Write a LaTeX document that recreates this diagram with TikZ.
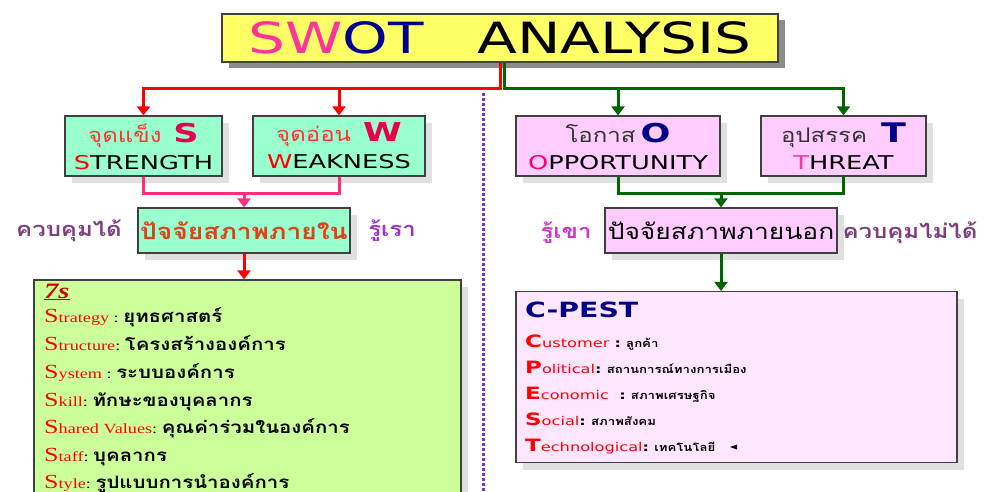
\documentclass[tikz,border=0pt]{standalone}
\usepackage{fontspec}
\usetikzlibrary{arrows.meta,shadows}
\setmainfont{DejaVu Sans}
\newfontfamily\wsans[FakeStretch=1.35]{DejaVu Sans}
\newfontfamily\wserif[FakeStretch=1.3]{Liberation Serif}
\newfontfamily\thai[Script=Thai,FakeStretch=1.2]{Loma}
\definecolor{menta}{HTML}{99FFCC}
\definecolor{rosa}{HTML}{FFCCFF}
\definecolor{rosaclaro}{HTML}{FFE6FF}
\definecolor{lima}{HTML}{CCFF99}
\definecolor{amarillo}{HTML}{FFFF66}
\definecolor{verde}{HTML}{006600}
\definecolor{fucsia}{HTML}{FF3399}
\definecolor{rosalinea}{HTML}{FF2D7A}
\definecolor{azul}{HTML}{000088}
\definecolor{violeta}{HTML}{7B2FD6}
\definecolor{morado}{HTML}{7F3F7F}
\definecolor{lila}{HTML}{9933CC}
\definecolor{magenta2}{HTML}{CC33CC}
\definecolor{rojizo}{HTML}{E0401A}
\definecolor{rojothai}{HTML}{FF3333}
\definecolor{rosafuerte}{HTML}{FF0066}
\definecolor{carmin}{HTML}{E6004C}
\definecolor{rojo7}{HTML}{CC0000}
\begin{document}
\begin{tikzpicture}[x=1pt,y=-1pt,
    caja/.style={draw=black!75,line width=1.2pt,inner sep=0pt,align=center},
    sombra/.style={drop shadow={shadow xshift=7pt,shadow yshift=-7pt,
      fill=black!12,opacity=1}},
    caja swot/.style={caja,sombra,minimum height=60pt,
      font=\wsans\fontsize{19}{27}\selectfont},
    etiqueta/.style={anchor=base,font=\thai\bfseries\fontsize{20}{20}\selectfont},
    linea roja/.style={red,line width=3pt},
    linea verde/.style={verde,line width=3pt},
    linea rosa/.style={rosalinea,line width=3pt},
    flecha/.style={-{Triangle[width=13pt,length=9pt]}}]
    % Marco de la imagen.
    \useasboundingbox (0,0) rectangle (994,491);
    \clip (0,0) rectangle (994,491);

    % Titulo.
    \node[caja,fill=amarillo,minimum width=556pt,minimum height=48pt,
        drop shadow={shadow xshift=7pt,shadow yshift=-6pt,fill=black!45,opacity=1},
        font=\wsans\fontsize{43}{43}\selectfont] (titulo) at (500,38)
        {\textcolor{fucsia}{SW}\textcolor{azul}{OT}\hspace{54pt}ANALYSIS};

    % Cajas S, W, O y T.
    \node[caja swot,fill=menta,minimum width=157pt] (fuerza) at (143.5,146)
        {{\thai\fontsize{20}{20}\selectfont\textcolor{rojothai}{จุดแข็ง}}\hspace{12pt}%
         {\bfseries\fontsize{26}{26}\selectfont\textcolor{carmin}{S}}\\
         \textcolor{red}{S}TRENGTH};
    \node[caja swot,fill=menta,minimum width=172pt] (debil) at (339,146)
        {{\thai\fontsize{20}{20}\selectfont\textcolor{rojothai}{จุดอ่อน}}\hspace{12pt}%
         {\bfseries\fontsize{26}{26}\selectfont\textcolor{carmin}{W}}\\
         \textcolor{red}{W}EAKNESS};
    \node[caja swot,fill=rosa,minimum width=204pt] (oportunidad) at (618,146)
        {{\thai\fontsize{20}{20}\selectfont\textcolor{black!80}{โอกาส}}\hspace{5pt}%
         {\bfseries\fontsize{26}{26}\selectfont\textcolor{azul}{O}}\\
         \textcolor{rosafuerte}{O}PPORTUNITY};
    \node[caja swot,fill=rosa,minimum width=165pt] (amenaza) at (843.5,146)
        {{\thai\fontsize{20}{20}\selectfont\textcolor{black!80}{อุปสรรค}}\hspace{14pt}%
         {\bfseries\fontsize{27}{27}\selectfont\textcolor{azul}{T}}\\
         \textcolor{fucsia}{T}HREAT};

    % Factores internos y externos.
    \node[caja,sombra,fill=menta,minimum width=212pt,minimum height=45pt,
        font=\thai\bfseries\fontsize{22}{22}\selectfont,text=rojizo] (interno)
        at (244,230.5) {ปัจจัยสภาพภายใน};
    \node[caja,sombra,fill=rosa,minimum width=232pt,minimum height=45pt,
        font=\thai\fontsize{22}{22}\selectfont] (externo)
        at (721,230.5) {ปัจจัยสภาพภายนอก};
    \node[etiqueta,text=morado] (controla) at (69,236) {ควบคุมได้};
    \node[etiqueta,text=lila] (nosotros) at (392,236) {รู้เรา};
    \node[etiqueta,text=magenta2] (ellos) at (566,238) {รู้เขา};
    \node[etiqueta,text=morado] (nocontrola) at (910,238) {ควบคุมไม่ได้};

    % Cajas 7s y C-PEST.
    \node[caja,sombra,fill=lima,minimum width=427pt,minimum height=240pt]
        (sietes) at (247.5,400) {};
    \node[caja,sombra,fill=rosaclaro,minimum width=441pt,minimum height=171pt]
        (cpest) at (736.5,377) {};

    \node[anchor=base west,inner sep=0pt,text=rojo7,
        font=\wserif\bfseries\itshape\fontsize{22}{22}\selectfont]
        (titulo7s) at (44,298) {\underline{7s}};
    \foreach \y/\resto/\th [count=\n] in {322/trategy\ /ยุทธศาสตร์,
        350/tructure/โครงสร้างองค์การ, 378/ystem\ /ระบบองค์การ,
        406/kill/ทักษะของบุคลากร, 433/hared Values/คุณค่าร่วมในองค์การ,
        461/taff/บุคลากร, 488/tyle/รูปแบบการนำองค์การ}
      \node[anchor=base west,inner sep=0pt,font=\wserif\fontsize{14}{14}\selectfont]
        (linea7s\n) at (44,\y)
        {\textcolor{red}{{\fontsize{20}{20}\selectfont S}\resto}:\
         {\thai\bfseries\fontsize{17}{17}\selectfont\th}};

    \node[anchor=base west,inner sep=0pt,text=azul,
        font=\wsans\bfseries\fontsize{21}{21}\selectfont]
        (titulopest) at (525,317) {C-PEST};
    \foreach \y/\ini/\resto/\th [count=\n] in {347/C/ustomer\ /ลูกค้า,
        373/P/olitical/สถานการณ์ทางการเมือง, 399/E/conomic\ \ /สภาพเศรษฐกิจ,
        425/S/ocial/สภาพสังคม, 451/T/echnological/เทคโนโลยี}
      \node[anchor=base west,inner sep=0pt,font=\wsans\fontsize{12}{12}\selectfont]
        (lineapest\n) at (525,\y)
        {\textcolor{red}{{\bfseries\fontsize{17}{17}\selectfont\ini}\resto}\textbf{:}\
         {\thai\bfseries\fontsize{11}{11}\selectfont\th}};
    \fill (730,447) -- (737,444.5) -- (737,449.5) -- cycle;

    % Conectores.
    \coordinate (partirojo) at (500,88);
    \coordinate (partiverde) at (504,88);
    \coordinate (unionS) at (244,193);
    \coordinate (unionO) at (721,193);
    \draw[linea roja,flecha] (titulo.south -| partirojo) -- (partirojo) -| (fuerza.north);
    \draw[linea roja,flecha] (partirojo -| debil.north) -- (debil.north);
    \draw[linea verde,flecha] (titulo.south -| partiverde) -- (partiverde) -| (amenaza.north);
    \draw[linea verde,flecha] (partiverde -| oportunidad.north) -- (oportunidad.north);
    \draw[linea rosa] (fuerza.south) |- (unionS) -| (debil.south);
    \draw[linea rosa,flecha] (unionS) -- (interno.north);
    \draw[linea roja,flecha] (interno.south) -- (interno.south |- sietes.north);
    \draw[linea verde] (oportunidad.south) |- (unionO) -| (amenaza.south);
    \draw[linea verde,flecha] (unionO) -- (externo.north);
    \draw[linea verde,flecha] (externo.south) -- (externo.south |- cpest.north);

    % Linea divisoria.
    \draw[violeta,line width=3pt,dash pattern=on 3pt off 2pt] (483,93) -- (483,491);
\end{tikzpicture}
\end{document}
